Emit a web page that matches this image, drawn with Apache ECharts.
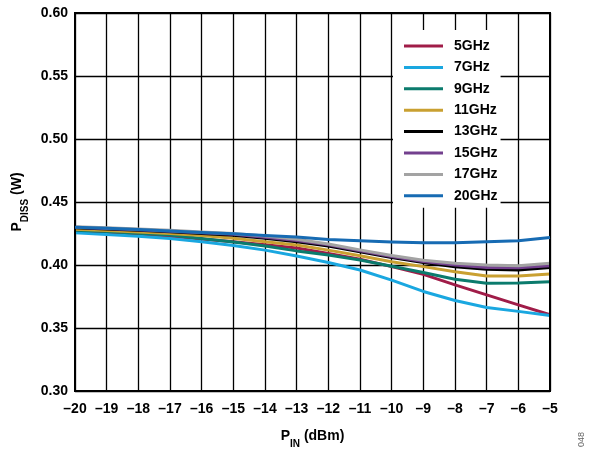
<!DOCTYPE html>
<html>
<head>
<meta charset="utf-8">
<script src="https://cdn.jsdelivr.net/npm/echarts@6/dist/echarts.min.js"></script>
<style>
html,body{margin:0;padding:0;background:#fff;}
#chart{width:591px;height:454px;}
</style>
</head>
<body>
<div id="chart"></div>
<script>
var pin = [-20,-19,-18,-17,-16,-15,-14,-13,-12,-11,-10,-9,-8,-7,-6,-5];
var seriesNames = ['5GHz','7GHz','9GHz','11GHz','13GHz','15GHz','17GHz','20GHz'];
var ghz5  = [0.4265,0.4255,0.4243,0.4228,0.4207,0.4184,0.4160,0.4135,0.4092,0.4045,0.3987,0.3926,0.3842,0.3763,0.3684,0.3605];
var ghz7  = [0.4255,0.4243,0.4228,0.4210,0.4184,0.4155,0.4118,0.4072,0.4020,0.3960,0.3880,0.3790,0.3718,0.3663,0.3632,0.3600];
var ghz9  = [0.4275,0.4265,0.4252,0.4238,0.4210,0.4182,0.4150,0.4112,0.4080,0.4040,0.3990,0.3940,0.3887,0.3855,0.3858,0.3868];
var ghz11 = [0.4283,0.4273,0.4262,0.4250,0.4235,0.4212,0.4185,0.4158,0.4118,0.4074,0.4026,0.3987,0.3947,0.3913,0.3913,0.3929];
var ghz13 = [0.4295,0.4285,0.4275,0.4263,0.4250,0.4237,0.4212,0.4185,0.4150,0.4105,0.4060,0.4020,0.3987,0.3966,0.3960,0.3980];
var ghz15 = [0.4300,0.4290,0.4280,0.4268,0.4256,0.4244,0.4220,0.4195,0.4160,0.4112,0.4067,0.4028,0.4000,0.3980,0.3978,0.3995];
var ghz17 = [0.4303,0.4295,0.4285,0.4275,0.4262,0.4250,0.4230,0.4205,0.4167,0.4120,0.4075,0.4037,0.4013,0.4000,0.3995,0.4013];
var ghz20 = [0.4300,0.4292,0.4282,0.4270,0.4258,0.4248,0.4235,0.4222,0.4203,0.4192,0.4182,0.4176,0.4176,0.4184,0.4192,0.4218];
var seriesValues = [ghz5,ghz7,ghz9,ghz11,ghz13,ghz15,ghz17,ghz20];
var seriesColors = ['#a01c48','#1aa7e0','#0b7b6d','#c9a031','#000000','#73408e','#a3a3a3','#176bb3'];
var yMin = 0.30, yMax = 0.60, yStep = 0.05;
var xMin = -20, xMax = -5, xStep = 1;

var font = '"Liberation Sans", Arial, sans-serif';
var chart = echarts.init(document.getElementById('chart'));

var series = seriesNames.map(function(n, i){
  return {
    name: n,
    type: 'line',
    data: pin.map(function(x, j){ return [x, seriesValues[i][j]]; }),
    showSymbol: false,
    smooth: false,
    lineStyle: {width: 3, color: seriesColors[i], join: 'round'},
    itemStyle: {color: seriesColors[i]},
    z: 3 + i
  };
});

chart.setOption({
  animation: false,
  backgroundColor: '#fff',
  grid: {left: 75, right: 41, top: 13, bottom: 61, show: true, borderColor: '#000', borderWidth: 2, z: 10},
  legend: {
    orient: 'vertical',
    left: 393, top: 30,
    width: 112,
    padding: [9, 3, 5, 11],
    backgroundColor: '#fff',
    icon: 'rect',
    itemWidth: 39, itemHeight: 3,
    itemGap: 7.4,
    textStyle: {fontFamily: font, fontWeight: 'bold', fontSize: 14, color: '#000', lineHeight: 14, padding: [0,0,0,6]},
    data: seriesNames,
    z: 20
  },
  xAxis: {
    type: 'value', min: xMin, max: xMax, interval: xStep,
    axisLine: {show: true, lineStyle: {color: '#000', width: 2}},
    axisTick: {show: false},
    splitLine: {show: true, lineStyle: {color: '#000', width: 1.3}},
    axisLabel: {
      fontFamily: font, fontWeight: 'bold', fontSize: 14, color: '#000', margin: 11,
      formatter: function(v){ return v < 0 ? '\u2013' + (-v) : String(v); }
    },
    name: '{a|P}{b|IN}{a| (dBm)}',
    nameLocation: 'middle',
    nameGap: 38,
    nameTextStyle: {
      rich: {
        a: {fontFamily: font, fontWeight: 'bold', fontSize: 14, color: '#000', lineHeight: 20, verticalAlign: 'top'},
        b: {fontFamily: font, fontWeight: 'bold', fontSize: 10, color: '#000', lineHeight: 20, verticalAlign: 'bottom'}
      }
    }
  },
  yAxis: {
    type: 'value', min: yMin, max: yMax, interval: yStep,
    axisLine: {show: true, lineStyle: {color: '#000', width: 2}},
    axisTick: {show: false},
    splitLine: {show: true, lineStyle: {color: '#000', width: 1.3}},
    axisLabel: {
      fontFamily: font, fontWeight: 'bold', fontSize: 14, color: '#000', margin: 7,
      padding: [4, 0, 0, 0],
      formatter: function(v){ return v.toFixed(2); }
    },
    name: '{a|P}{b|DISS}{a| (W)}',
    nameLocation: 'middle',
    nameRotate: 90,
    nameGap: 39,
    nameTextStyle: {
      rich: {
        a: {fontFamily: font, fontWeight: 'bold', fontSize: 14, color: '#000', lineHeight: 20, verticalAlign: 'top'},
        b: {fontFamily: font, fontWeight: 'bold', fontSize: 10, color: '#000', lineHeight: 20, verticalAlign: 'bottom'}
      }
    }
  },
  graphic: [{
    type: 'text',
    left: 577, top: 432,
    rotation: Math.PI / 2,
    style: {text: '048', fontFamily: font, fontSize: 9, fill: '#666'}
  }],
  series: series
});
</script>
</body>
</html>
